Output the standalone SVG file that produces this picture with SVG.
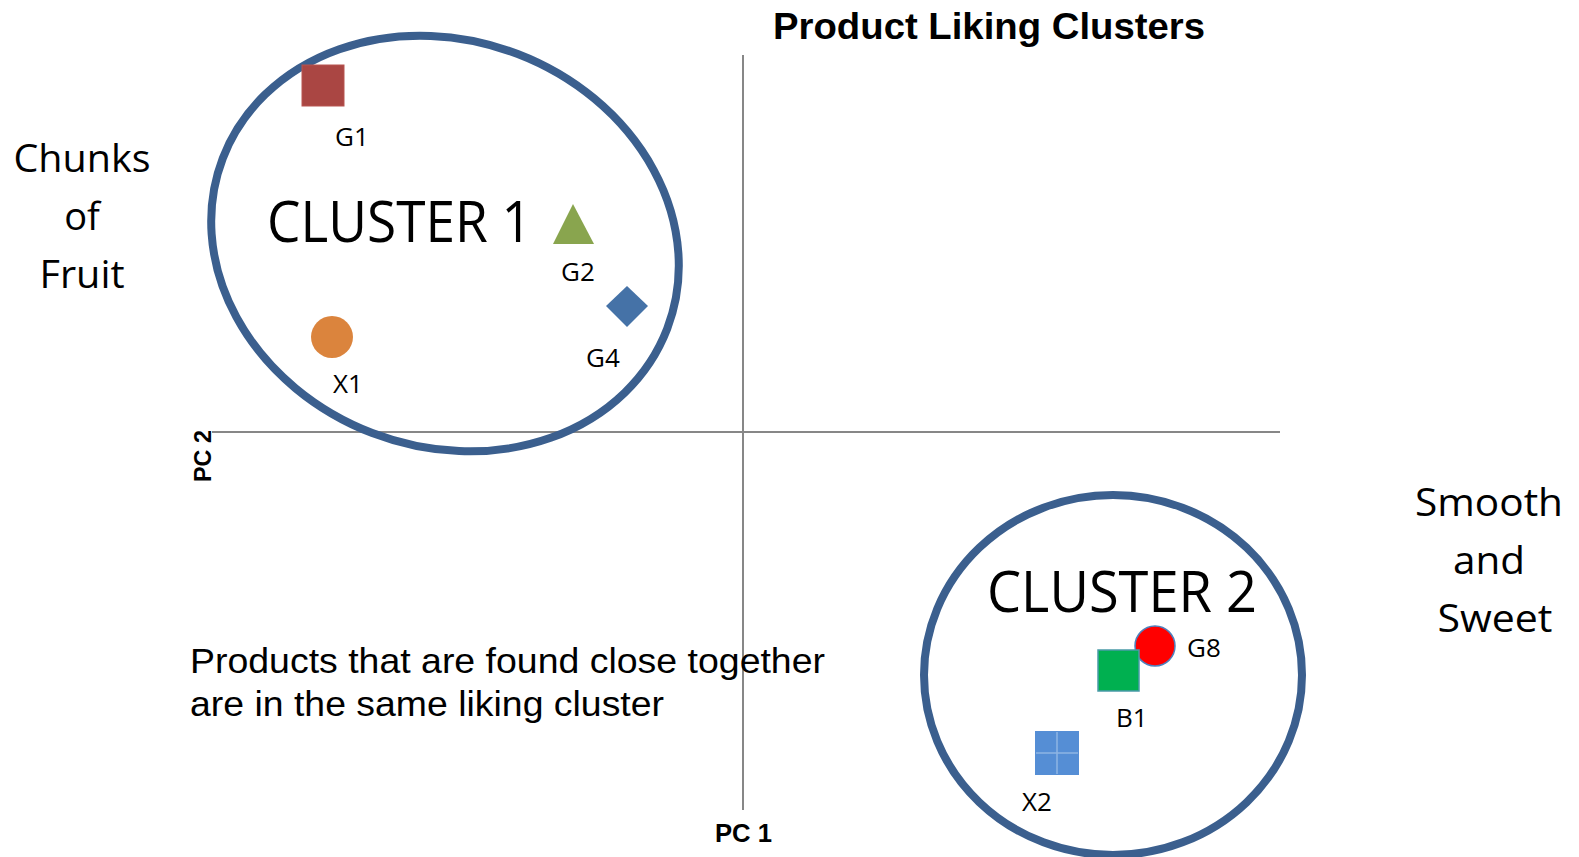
<svg xmlns="http://www.w3.org/2000/svg" width="1579" height="857" viewBox="0 0 1579 857">
<style>
.axis{stroke:#878787;stroke-width:2;fill:none}
.clu{fill:none;stroke:#3B5F8E;stroke-width:8}
.lbl{font-family:"Open Sans","Liberation Sans",sans-serif;font-size:26px;fill:#000}
.big{font-family:"Open Sans","Liberation Sans",sans-serif;font-size:56px;fill:#000}
.side{font-family:"Open Sans","Liberation Sans",sans-serif;font-size:38px;fill:#000;text-anchor:middle}
.bold{font-family:"Liberation Sans",Arial,sans-serif;font-weight:bold;fill:#000}
.note{font-family:"Liberation Sans",Arial,sans-serif;font-size:35px;fill:#000}
</style>
<rect width="1579" height="857" fill="#fff"/>
<g id="axes">
<line class="axis" x1="212" y1="432" x2="1280" y2="432"/>
<line class="axis" x1="743" y1="55" x2="743" y2="810"/>
<text class="bold" font-size="24" transform="translate(211,456) rotate(-90)" text-anchor="middle" textLength="52" lengthAdjust="spacingAndGlyphs">PC 2</text>
<text class="bold" font-size="25" x="715" y="842" textLength="57" lengthAdjust="spacingAndGlyphs">PC 1</text>
</g>
<text id="title" class="bold" font-size="36" x="773" y="39" textLength="432" lengthAdjust="spacingAndGlyphs">Product Liking Clusters</text>
<g id="left-label">
<text class="side" x="82" y="172" textLength="137" lengthAdjust="spacingAndGlyphs">Chunks</text>
<text class="side" x="82" y="230">of</text>
<text class="side" x="82" y="288" textLength="85" lengthAdjust="spacingAndGlyphs">Fruit</text>
</g>
<g id="right-label">
<text class="side" x="1489" y="516" textLength="148" lengthAdjust="spacingAndGlyphs">Smooth</text>
<text class="side" x="1489" y="574" textLength="72" lengthAdjust="spacingAndGlyphs">and</text>
<text class="side" x="1495" y="632" textLength="115" lengthAdjust="spacingAndGlyphs">Sweet</text>
</g>
<g id="cluster1">
<ellipse class="clu" cx="445" cy="243.5" rx="238" ry="203" transform="rotate(21 445 243.5)"/>
<text class="big" x="267" y="242" textLength="265" lengthAdjust="spacingAndGlyphs">CLUSTER 1</text>
</g>
<g id="cluster2">
<ellipse class="clu" cx="1113" cy="675" rx="189" ry="180"/>
<text class="big" x="987" y="612" textLength="270" lengthAdjust="spacingAndGlyphs">CLUSTER 2</text>
</g>
<g id="G1">
<rect x="302" y="65" width="42" height="41" fill="#AA4643" stroke="#B85450" stroke-width="1"/>
<text class="lbl" x="335" y="146">G1</text>
</g>
<g id="G2">
<polygon points="573,204 594,244 553,244" fill="#89A54E"/>
<text class="lbl" x="561" y="281">G2</text>
</g>
<g id="G4">
<polygon points="627,286 648,306 627,327 606,306" fill="#4572A7"/>
<text class="lbl" x="586" y="367">G4</text>
</g>
<g id="X1">
<circle cx="332" cy="337" r="21" fill="#DB843D"/>
<text class="lbl" x="333" y="393">X1</text>
</g>
<g id="G8">
<circle cx="1155" cy="646" r="20" fill="#FF0000" stroke="#4F81BD" stroke-width="1.5"/>
<text class="lbl" x="1187" y="657">G8</text>
</g>
<g id="B1">
<rect x="1098" y="650" width="41" height="41" fill="#00B050" stroke="#4A9BA8" stroke-width="1.5"/>
<text class="lbl" x="1116" y="727">B1</text>
</g>
<g id="X2">
<rect x="1035" y="731" width="44" height="44" fill="#558ED5"/>
<line x1="1036" y1="753" x2="1078" y2="753" stroke="#8EB4E3" stroke-width="1.5"/>
<line x1="1057" y1="732" x2="1057" y2="774" stroke="#8EB4E3" stroke-width="1.5"/>
<text class="lbl" x="1022" y="811">X2</text>
</g>
<g id="note">
<text class="note" x="190" y="673" textLength="635" lengthAdjust="spacingAndGlyphs">Products that are found close together</text>
<text class="note" x="190" y="716" textLength="474" lengthAdjust="spacingAndGlyphs">are in the same liking cluster</text>
</g>
</svg>
